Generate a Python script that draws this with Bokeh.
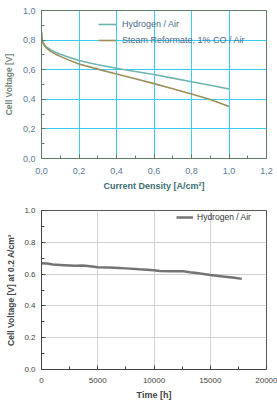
from bokeh.plotting import figure
from bokeh.layouts import column
from bokeh.models import FixedTicker, Legend, LegendItem, Range1d
from bokeh.embed import file_html
from bokeh.resources import INLINE

# Polarisation curves: current density [A/cm²] vs cell voltage [V]
current_density = [0.0, 0.002, 0.005, 0.01, 0.02, 0.03, 0.05, 0.075, 0.1, 0.15,
                   0.2, 0.3, 0.4, 0.5, 0.6, 0.7, 0.8, 0.9, 1.0]
voltage_hydrogen = [0.86, 0.82, 0.795, 0.78, 0.762, 0.75, 0.733, 0.718, 0.705, 0.683,
                    0.662, 0.634, 0.61, 0.588, 0.567, 0.543, 0.519, 0.495, 0.47]
voltage_reformate = [0.85, 0.81, 0.79, 0.775, 0.755, 0.742, 0.722, 0.705, 0.69, 0.663,
                     0.639, 0.604, 0.571, 0.539, 0.506, 0.471, 0.436, 0.398, 0.352]

# Long-term test at 0.2 A/cm²
time_h = [0, 500, 1000, 2000, 3000, 3700, 4500, 5000, 6000, 6900, 7500, 8700,
          10000, 10500, 11400, 12600, 13200, 13800, 15000, 16300, 17000, 17800]
voltage_time = [0.668, 0.666, 0.660, 0.656, 0.652, 0.654, 0.648, 0.643, 0.641, 0.639,
                0.636, 0.630, 0.624, 0.620, 0.618, 0.618, 0.612, 0.607, 0.595, 0.584,
                0.578, 0.570]

top_x_ticks = [0.0, 0.2, 0.4, 0.6, 0.8, 1.0, 1.2]
top_y_ticks = [0.0, 0.2, 0.4, 0.6, 0.8, 1.0]
bottom_x_ticks = [0, 5000, 10000, 15000, 20000]
bottom_y_ticks = [0.0, 0.2, 0.4, 0.6, 0.8, 1.0]

FONT = "Liberation Sans"


def style_axes(p, tick_color, title_color, line_color, label_size):
    for ax in (p.xaxis[0], p.yaxis[0]):
        ax.axis_line_color = line_color
        ax.major_tick_line_color = line_color
        ax.minor_tick_line_color = line_color
        ax.major_tick_in = 4
        ax.major_tick_out = 0
        ax.minor_tick_in = 3
        ax.minor_tick_out = 0
        ax.major_label_text_font = FONT
        ax.major_label_text_font_size = label_size
        ax.major_label_text_color = tick_color
        ax.axis_label_text_font = FONT
        ax.axis_label_text_font_style = "bold"
        ax.axis_label_text_color = title_color


# ---------- upper chart: polarisation curves ----------
p1 = figure(width=277, height=200, output_backend="svg", toolbar_location=None,
            x_range=Range1d(0, 1.2), y_range=Range1d(0, 1.0),
            min_border_left=40, min_border_right=11, min_border_top=10,
            min_border_bottom=42)
p1.background_fill_color = "white"
p1.border_fill_color = "white"
p1.outline_line_color = "#5f7d66"
p1.outline_line_width = 1

p1.xaxis.ticker = FixedTicker(ticks=top_x_ticks,
                              minor_ticks=[0.1, 0.3, 0.5, 0.7, 0.9, 1.1])
p1.yaxis.ticker = FixedTicker(ticks=top_y_ticks,
                              minor_ticks=[0.1, 0.3, 0.5, 0.7, 0.9])
p1.xaxis.major_label_overrides = {t: f"{t:.1f}".replace(".", ",") for t in top_x_ticks}
p1.yaxis.major_label_overrides = {t: f"{t:.1f}".replace(".", ",") for t in top_y_ticks}
p1.xaxis.axis_label = "Current Density [A/cm²]"
p1.yaxis.axis_label = "Cell Voltage [V]"
style_axes(p1, "#5d7a92", "#3c6e72", "#5f7d66", "9px")
p1.xaxis.axis_label_text_font_size = "9px"
p1.yaxis.axis_label_text_font_size = "8.5px"
p1.xaxis.major_label_standoff = 9
p1.yaxis.major_label_standoff = 6
p1.xaxis.axis_label_standoff = 4
p1.yaxis.axis_label_standoff = 6
p1.yaxis.axis_label_text_color = "#6f8478"

p1.xgrid.ticker = FixedTicker(ticks=top_x_ticks)
p1.ygrid.ticker = FixedTicker(ticks=top_y_ticks)
p1.grid.grid_line_color = "#3ccbf2"
p1.grid.grid_line_width = 1

r_h2 = p1.line(current_density, voltage_hydrogen, line_color="#6db5ad", line_width=1.6)
r_ref = p1.line(current_density, voltage_reformate, line_color="#9c8e58", line_width=1.6)

leg1 = Legend(items=[LegendItem(label="Hydrogen / Air", renderers=[r_h2]),
                     LegendItem(label="Steam Reformate, 1% CO / Air", renderers=[r_ref])],
              location=(57, 113), orientation="vertical")
leg1.padding = 0
leg1.margin = 0
leg1.spacing = 6
leg1.glyph_width = 18
leg1.glyph_height = 10
leg1.label_height = 10
leg1.label_standoff = 6
leg1.label_text_font = FONT
leg1.label_text_font_size = "9px"
leg1.label_text_color = "#4a6a8c"
leg1.border_line_alpha = 0
leg1.background_fill_alpha = 0
p1.add_layout(leg1)

# ---------- lower chart: long-term stability ----------
p2 = figure(width=277, height=203, output_backend="svg", toolbar_location=None,
            x_range=Range1d(0, 20000), y_range=Range1d(0, 1.0),
            min_border_left=41, min_border_right=9, min_border_top=10,
            min_border_bottom=34)
p2.background_fill_color = "white"
p2.border_fill_color = "white"
p2.outline_line_color = "#555555"
p2.outline_line_width = 1

p2.xaxis.ticker = FixedTicker(ticks=bottom_x_ticks,
                              minor_ticks=[2500, 7500, 12500, 17500])
p2.yaxis.ticker = FixedTicker(ticks=bottom_y_ticks,
                              minor_ticks=[0.1, 0.3, 0.5, 0.7, 0.9])
p2.xaxis.major_label_overrides = {t: str(t) for t in bottom_x_ticks}
p2.yaxis.major_label_overrides = {t: f"{t:.1f}" for t in bottom_y_ticks}
p2.xaxis.axis_label = "Time [h]"
p2.yaxis.axis_label = "Cell Voltage [V] at 0.2 A/cm²"
style_axes(p2, "#444444", "#444444", "#444444", "8px")
p2.xaxis.axis_label_text_font_size = "9px"
p2.yaxis.axis_label_text_font_size = "8.5px"
p2.xaxis.major_label_standoff = 8
p2.yaxis.major_label_standoff = 6
p2.xaxis.axis_label_standoff = 4
p2.yaxis.axis_label_standoff = 5

p2.xgrid.ticker = FixedTicker(ticks=bottom_x_ticks)
p2.ygrid.ticker = FixedTicker(ticks=bottom_y_ticks)
p2.grid.grid_line_color = "#d2d2d2"
p2.grid.grid_line_width = 1

r_t = p2.line(time_h, voltage_time, line_color="#747474", line_width=2.5)

leg2 = Legend(items=[LegendItem(label="Hydrogen / Air", renderers=[r_t])],
              location=(135, 147), orientation="vertical")
leg2.padding = 0
leg2.margin = 0
leg2.glyph_width = 17
leg2.glyph_height = 10
leg2.label_height = 10
leg2.label_standoff = 4
leg2.label_text_font = FONT
leg2.label_text_font_size = "8.5px"
leg2.label_text_color = "#333333"
leg2.border_line_alpha = 0
leg2.background_fill_alpha = 0
p2.add_layout(leg2)

layout = column(p1, p2, spacing=0)
open("out.html", "w").write(file_html(layout, INLINE))
